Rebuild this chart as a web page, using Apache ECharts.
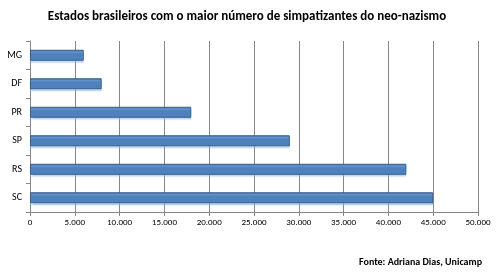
<!DOCTYPE html>
<html><head><meta charset="utf-8">
<script src="https://cdn.jsdelivr.net/npm/echarts@6/dist/echarts.min.js"></script>
<style>html,body{margin:0;padding:0;background:#fff}#c{width:500px;height:277px}</style>
</head><body><div id="c"></div>
<script>
var categories = ['MG', 'DF', 'PR', 'SP', 'RS', 'SC'];
var values = [6000, 8000, 18000, 29000, 42000, 45000];
var titleText = 'Estados brasileiros com o maior número de simpatizantes do neo-nazismo';
var sourceText = 'Fonte: Adriana Dias, Unicamp';

var chart = echarts.init(document.getElementById('c'), null, {renderer: 'canvas'});
var font = 'Carlito, "Open Sans", "DejaVu Sans", sans-serif';
chart.setOption({
  animation: false,
  title: [
    {text: titleText, left: 242, textAlign: 'center', top: 5,
     textStyle: {fontFamily: font, fontSize: 13, fontWeight: 'bold', color: '#000'}},
    {text: sourceText, right: 13, top: 252,
     textStyle: {fontFamily: font, fontSize: 10, fontWeight: 'bold', color: '#000'}}
  ],
  grid: {left: 30, right: 22, top: 41, bottom: 65},
  xAxis: {
    type: 'value', min: 0, max: 50000, interval: 5000,
    axisLine: {show: true, lineStyle: {color: '#868686'}},
    axisTick: {show: true, length: 4, lineStyle: {color: '#868686'}},
    splitLine: {show: true, lineStyle: {color: '#868686', width: 1}},
    axisLabel: {fontFamily: font, fontSize: 9, color: '#000', margin: 6,
      formatter: function (v) { return v === 0 ? '0' : v.toString().replace(/\B(?=(\d{3})+(?!\d))/g, '.'); }}
  },
  yAxis: {
    type: 'category', data: categories, inverse: true,
    axisLine: {show: true, lineStyle: {color: '#868686'}},
    axisTick: {show: true, length: 4, lineStyle: {color: '#868686'}},
    axisLabel: {fontFamily: font, fontSize: 10, color: '#000', margin: 8}
  },
  series: [{
    type: 'bar', data: values, barWidth: 11,
    itemStyle: {color: '#4F81BD', borderColor: '#385D8A', borderWidth: 1,
      shadowColor: 'rgba(140,185,235,0.5)', shadowOffsetY: 2, shadowBlur: 1}
  }]
});
</script></body></html>
